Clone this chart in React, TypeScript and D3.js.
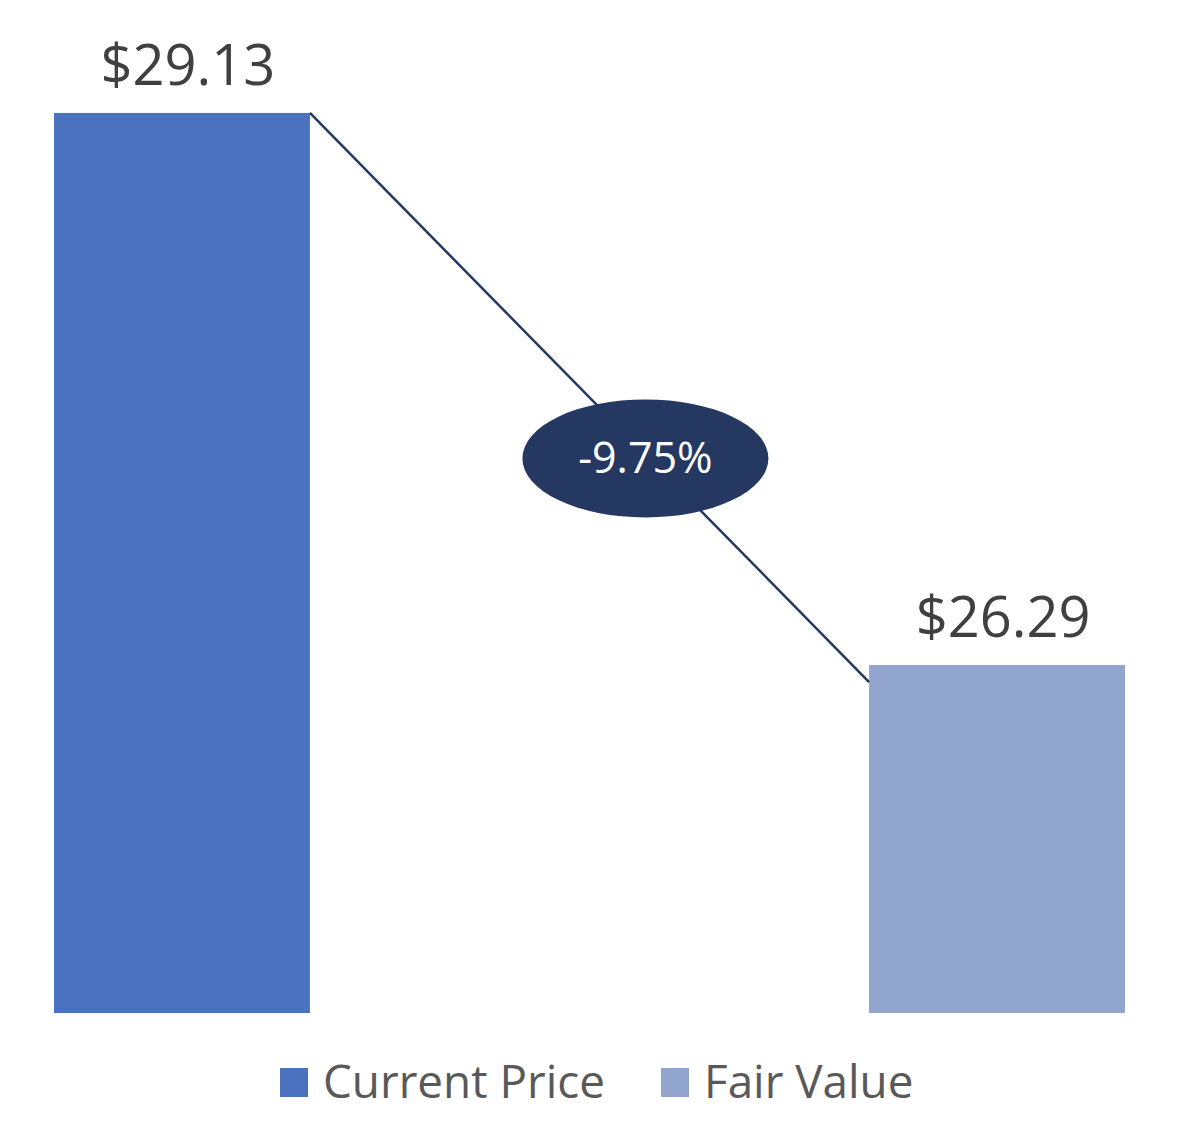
import React from "react";
import * as d3 from "d3";

const categories = ["Current Price", "Fair Value"];
const values = [29.13, 26.29];
const labels = ["$29.13", "$26.29"];
const changeLabel = "-9.75%";
const colors = ["#4A72BE", "#92A5CF"];

const W = 1180;
const H = 1144;
const FONT = "'Open Sans', 'Noto Sans', sans-serif";

export default function App() {
  const x = d3.scaleBand<string>().domain(categories).range([54, 1125]).paddingInner(0.686).paddingOuter(0);
  const y = d3.scaleLinear().domain([24.5, 29.5]).range([1013, 41]);
  const bw = x.bandwidth();

  const x0 = (x(categories[0]) as number) + bw;
  const y0 = y(values[0]);
  const x1 = x(categories[1]) as number;
  const y1 = y(values[1]) + 17;
  const t = 0.6;
  const ex = x0 + (x1 - x0) * t;
  const ey = y0 + (y1 - y0) * t + 4;

  const legendItems = [
    { sq: 280, tx: 323 },
    { sq: 661, tx: 704 },
  ];

  return (
    <svg
      width={W}
      height={H}
      style={{ position: "absolute", left: 0, top: 0, background: "#fff" }}
    >
      {categories.map((c, i) => (
        <rect
          key={c}
          x={x(c)}
          y={y(values[i])}
          width={bw}
          height={y(24.5) - y(values[i])}
          fill={colors[i]}
        />
      ))}
      {categories.map((c, i) => (
        <text
          key={"l" + c}
          x={(x(c) as number) + bw / 2 + 6}
          y={y(values[i]) - 28}
          textAnchor="middle"
          fontFamily={FONT}
          fontSize={56}
          fill="#404040"
        >
          {labels[i]}
        </text>
      ))}
      <line x1={x0} y1={y0} x2={x1} y2={y1} stroke="#243862" strokeWidth={2.5} />
      <ellipse cx={ex} cy={ey} rx={123} ry={59} fill="#243862" />
      <text
        x={ex}
        y={ey + 15}
        textAnchor="middle"
        fontFamily={FONT}
        fontSize={43}
        fill="#ffffff"
      >
        {changeLabel}
      </text>
      {categories.map((c, i) => (
        <g key={"lg" + c}>
          <rect x={legendItems[i].sq} y={1068} width={28} height={29} fill={colors[i]} />
          <text
            x={legendItems[i].tx}
            y={1098}
            fontFamily={FONT}
            fontSize={45.8}
            fill="#595959"
          >
            {c}
          </text>
        </g>
      ))}
    </svg>
  );
}
